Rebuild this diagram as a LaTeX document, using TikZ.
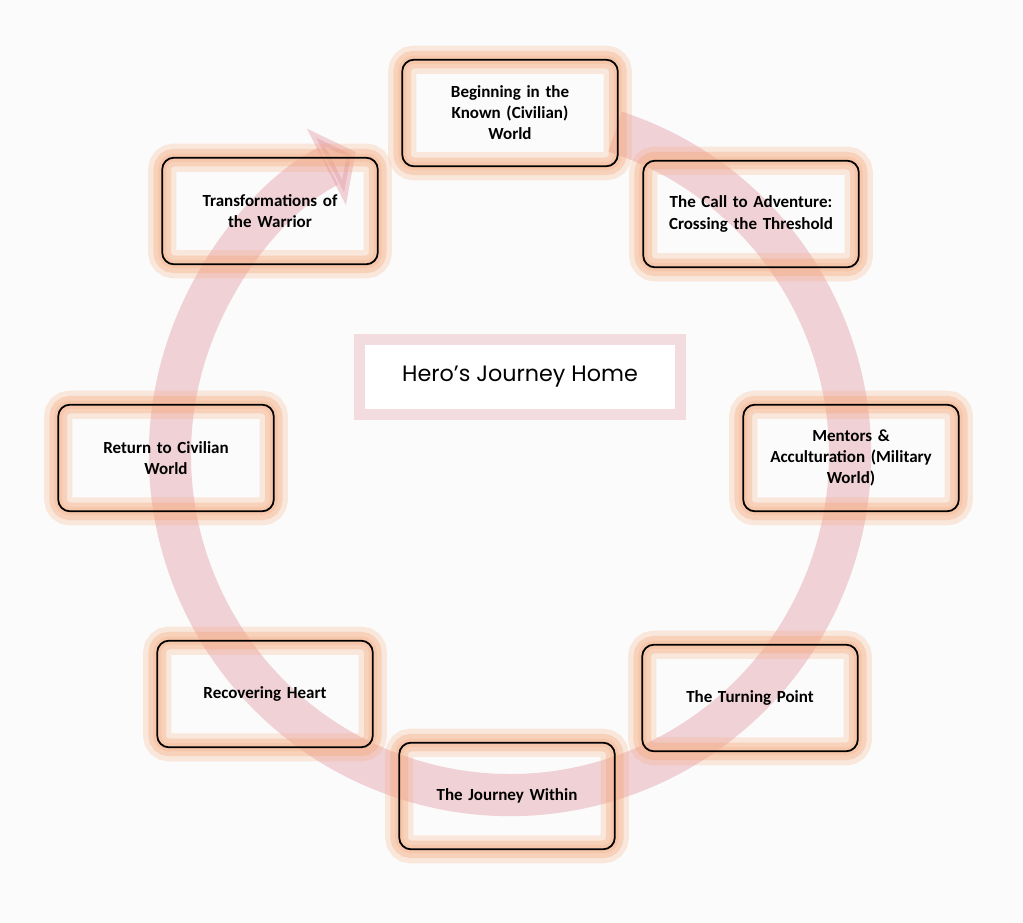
\documentclass[tikz,border=0pt]{standalone}
\usepackage{fontspec}
\setmainfont{Carlito}
\newfontfamily\titlefont{Poppins}
\usetikzlibrary{arrows.meta}
\definecolor{glow}{RGB}{245,160,110}
\definecolor{ring}{RGB}{225,150,160}
\tikzset{
 stage/.style={draw=black, line width=1.5pt, rounded corners=10pt, minimum width=184pt, minimum height=91pt, align=center, font=\bfseries\fontsize{14.5}{18}\selectfont, text width=172pt,
  preaction={draw=glow, line width=24pt, opacity=0.22},
  preaction={draw=glow, line width=15pt, opacity=0.3},
  preaction={draw=glow!70, line width=7pt, opacity=0.45}}
}
\begin{document}
\begin{tikzpicture}[x=0.03cm,y=0.03cm]
\useasboundingbox[fill=white!97!gray] (0,0) rectangle (1023,-923);
% ring
\coordinate (c) at (510,-455);
\draw[ring, opacity=0.4, line width=36pt, -{Triangle[length=28pt,width=72pt]}]
  (c) ++(72:340) arc[start angle=72, end angle=-243, radius=340];
% center title
\node[fill=white, minimum width=265pt, minimum height=55pt,
  preaction={draw=ring, line width=18pt, opacity=0.3},
  font=\titlefont\fontsize{19}{22}\selectfont] (title) at (520,-377) {Hero’s Journey Home};
\node[stage] (begin) at (510,-113) {Beginning in the\\Known (Civilian)\\World};
\node[stage] (call) at (751,-214) {The Call to Adventure:\\Crossing the Threshold};
\node[stage] (trans) at (270,-211) {Transformations of\\the Warrior};
\node[stage] (ret) at (166,-458) {Return to Civilian\\World};
\node[stage] (ment) at (851,-458) {Mentors \&\\Acculturation (Military\\World)};
\node[stage] (rec) at (265,-694) {Recovering Heart};
\node[stage] (turn) at (750,-698) {The Turning Point};
\node[stage] (within) at (507,-796) {The Journey Within};
\end{tikzpicture}
\end{document}
